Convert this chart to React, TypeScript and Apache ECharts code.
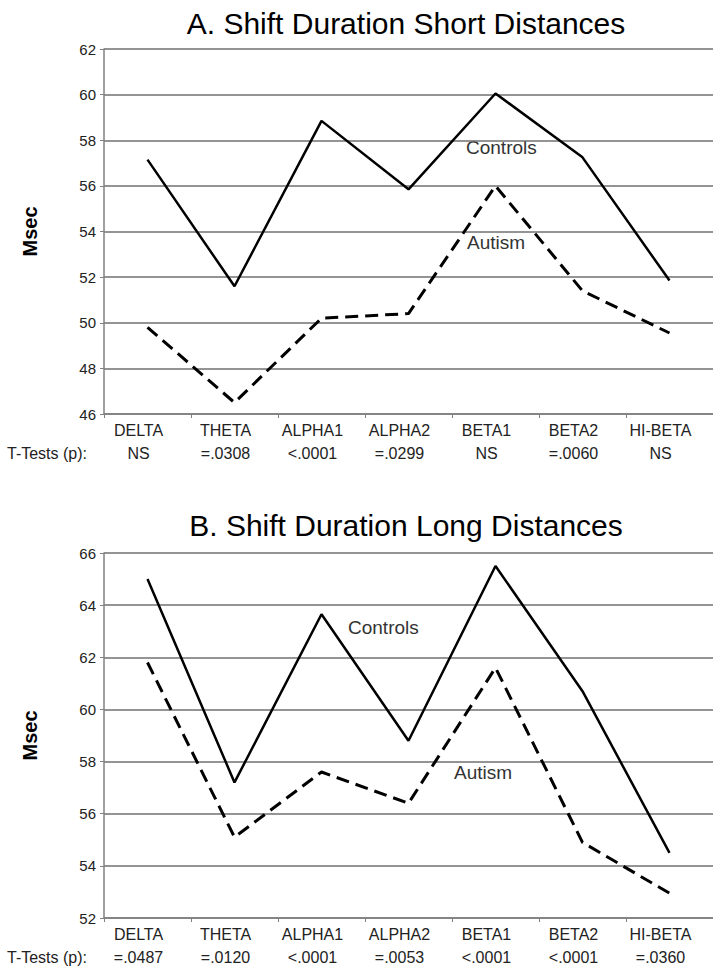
import React, { useEffect, useRef } from "react";
import * as echarts from "echarts";

const categories = ["DELTA", "THETA", "ALPHA1", "ALPHA2", "BETA1", "BETA2", "HI-BETA"];
const pValuesShort = ["NS", "=.0308", "<.0001", "=.0299", "NS", "=.0060", "NS"];
const pValuesLong = ["=.0487", "=.0120", "<.0001", "=.0053", "<.0001", "<.0001", "=.0360"];
const controlsShort = [57.15, 51.6, 58.85, 55.85, 60.05, 57.25, 51.85];
const autismShort = [49.8, 46.5, 50.2, 50.4, 56.0, 51.4, 49.55];
const controlsLong = [65.0, 57.2, 63.65, 58.8, 65.5, 60.7, 54.5];
const autismLong = [61.8, 55.1, 57.6, 56.4, 61.6, 54.9, 52.95];
const yRangeShort = [46, 62];
const yRangeLong = [52, 66];
const yStep = 2;
const titles = ["A. Shift Duration Short Distances", "B. Shift Duration Long Distances"];

const FONT = "'Liberation Sans', Arial, sans-serif";

export default function App() {
  const ref = useRef<HTMLDivElement>(null);
  useEffect(() => {
    if (!ref.current) return;
    const chart = echarts.init(ref.current, undefined, { renderer: "svg" });
    const gridTops = [49, 553];
    const pSets = [pValuesShort, pValuesLong];
    const ranges = [yRangeShort, yRangeLong];
    const xAxis = [0, 1].map((g) => ({
      type: "category",
      gridIndex: g,
      data: categories,
      boundaryGap: true,
      axisLine: { show: true, lineStyle: { color: "#808080", width: 1.5 } },
      axisTick: { show: true, length: 4, lineStyle: { color: "#808080", width: 1 } },
      axisLabel: {
        interval: 0,
        margin: 5,
        padding: [0, 18, 0, 0],
        formatter: (v: string, i: number) => `{a|${v}}\n{b|${pSets[g][i]}}`,
        rich: {
          a: { fontSize: 16, lineHeight: 23, color: "#222", fontFamily: FONT },
          b: { fontSize: 16, lineHeight: 23, color: "#222", fontFamily: FONT },
        },
      },
      splitLine: { show: false },
    }));
    const yAxis = [0, 1].map((g) => ({
      type: "value",
      gridIndex: g,
      min: ranges[g][0],
      max: ranges[g][1],
      interval: yStep,
      name: "Msec",
      nameLocation: "middle",
      nameGap: 64,
      nameRotate: 90,
      nameTextStyle: { fontSize: 20, fontWeight: "bold", color: "#000", fontFamily: FONT },
      axisLine: { show: true, lineStyle: { color: "#808080", width: 1.5 } },
      axisTick: { show: true, length: 4, lineStyle: { color: "#808080", width: 1 } },
      axisLabel: { fontSize: 15, color: "#222", margin: 8, fontFamily: FONT },
      splitLine: { show: true, lineStyle: { color: "#707070", width: 1.6 } },
    }));
    const mk = (name: string, data: number[], g: number, dashed: boolean) => ({
      name,
      type: "line",
      xAxisIndex: g,
      yAxisIndex: g,
      data,
      symbol: "none",
      showSymbol: false,
      lineStyle: dashed
        ? { color: "#000", width: 3, type: [13, 7], cap: "butt" }
        : { color: "#000", width: 2.5, type: "solid" },
    });
    const annot = (text: string, x: number, y: number) => ({
      type: "text",
      x,
      y,
      style: { text, fontSize: 19, fontFamily: FONT, fill: "#333", align: "left", verticalAlign: "middle" },
    });
    chart.setOption({
      animation: false,
      textStyle: { fontFamily: FONT },
      grid: gridTops.map((t) => ({ left: 104, top: t, width: 616, height: 365 })),
      xAxis,
      yAxis,
      series: [
        mk("Controls", controlsShort, 0, false),
        mk("Autism", autismShort, 0, true),
        mk("Controls", controlsLong, 1, false),
        mk("Autism", autismLong, 1, true),
      ],
      graphic: [
        { type: "text", x: 406, y: 23, style: { text: titles[0], fontSize: 30, fontFamily: FONT, fill: "#000", align: "center", verticalAlign: "middle" } },
        { type: "text", x: 406, y: 525, style: { text: titles[1], fontSize: 30, fontFamily: FONT, fill: "#000", align: "center", verticalAlign: "middle" } },
        { type: "text", x: 7, y: 453, style: { text: "T-Tests (p):", fontSize: 16, fontFamily: FONT, fill: "#222", align: "left", verticalAlign: "middle" } },
        { type: "text", x: 7, y: 957, style: { text: "T-Tests (p):", fontSize: 16, fontFamily: FONT, fill: "#222", align: "left", verticalAlign: "middle" } },
        annot("Controls", 466, 147),
        annot("Autism", 467, 242),
        annot("Controls", 348, 627),
        annot("Autism", 454, 772),
      ],
    });
    return () => chart.dispose();
  }, []);
  return <div ref={ref} style={{ position: "absolute", left: 0, top: 0, width: 713, height: 968 }} />;
}
